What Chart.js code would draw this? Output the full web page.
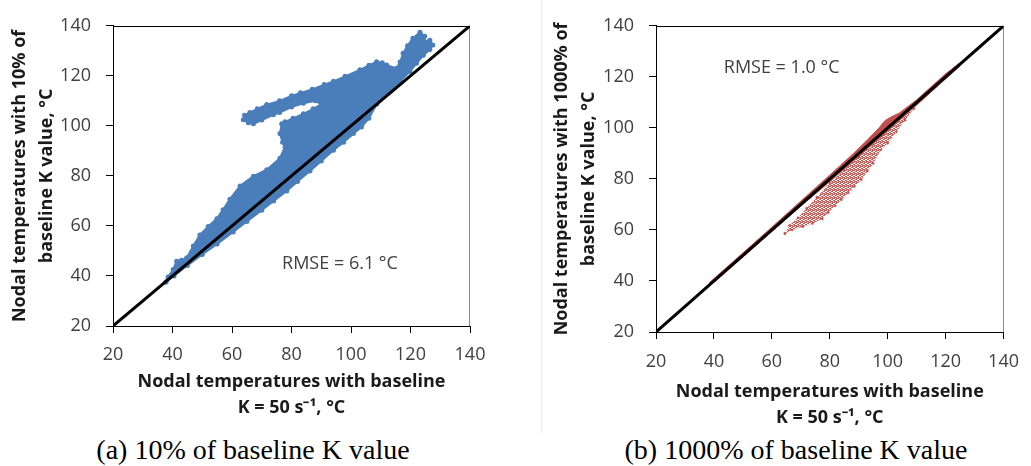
<!DOCTYPE html>
<html>
<head>
<meta charset="utf-8">
<script src="https://cdn.jsdelivr.net/npm/chart.js@4.4.1/dist/chart.umd.min.js"></script>
<style>
  body { margin: 0; background: #fff; width: 1031px; height: 466px; position: relative; overflow: hidden; }
  .panel { position: absolute; top: 0; }
  .caption { position: absolute; top: 434px; width: 400px; font-family: 'Liberation Serif', 'Times New Roman', serif; font-size: 28px; line-height: 32px; color: #000; text-align: center; white-space: nowrap; }
  .divider { position: absolute; left: 541px; top: 0; width: 1px; height: 433px; background: #ececec; }
</style>
</head>
<body>
<div class="panel" style="left:0"><canvas id="chart-a" width="520" height="430"></canvas></div>
<div class="divider"></div>
<div class="panel" style="left:525px"><canvas id="chart-b" width="506" height="430"></canvas></div>
<div class="caption" style="left:53px">(a) 10% of baseline K value</div>
<div class="caption" style="left:596px">(b) 1000% of baseline K value</div>
<script>
// Axis ticks (same for both axes, both panels)
const axisTicks = [20, 40, 60, 80, 100, 120, 140];

// 1:1 reference line
const oneToOne = [[20, 20], [140, 140]];

// (a) 10% K: outline of the blue point cloud [baseline, 10%]
const blueCloud = [
  [37.8, 37.6], [38.5, 39.6], [40.2, 42.6], [41.4, 45.9], [43.0, 46.3], [44.8, 47.3],
  [47.0, 52.0], [49.2, 56.4], [52.0, 59.8], [54.9, 62.9], [57.0, 66.5], [59.3, 70.7],
  [62.7, 76.0], [67.2, 79.9], [71.7, 82.5], [76.1, 87.1], [77.8, 91.6], [77.0, 93.5],
  [76.1, 96.9], [76.7, 100.8], [77.8, 101.6], [80.5, 103.0], [84.0, 104.8], [87.3, 106.8],
  [90.0, 108.6], [88.0, 110.0], [84.0, 109.0], [80.0, 107.5], [76.0, 105.3], [73.9, 104.4],
  [70.0, 102.3], [67.2, 100.8], [65.5, 101.2], [63.8, 102.4], [64.2, 104.2], [66.0, 105.3],
  [68.5, 106.8], [71.7, 108.5], [76.0, 110.0], [80.0, 112.0], [83.0, 113.2], [87.0, 114.6],
  [91.0, 116.5], [94.1, 117.8], [98.0, 119.8], [103.0, 122.4], [106.0, 124.2], [108.6, 125.6],
  [110.5, 125.2], [112.0, 124.3], [115.3, 123.0], [116.5, 125.5], [117.5, 129.0], [119.0, 132.0],
  [120.8, 135.0], [123.2, 137.4], [124.8, 135.8], [124.6, 133.8], [126.5, 134.2], [127.5, 132.3],
  [126.5, 130.5], [124.3, 128.2], [122.0, 125.0], [119.8, 121.7], [116.5, 117.8], [112.5, 113.0],
  [108.6, 108.6], [106.0, 103.0], [103.5, 99.5], [100.8, 96.9], [97.5, 93.5], [94.1, 90.3],
  [90.0, 86.0], [86.2, 82.0], [82.0, 77.8], [78.4, 74.0], [74.0, 70.0], [70.0, 66.3],
  [65.0, 61.8], [60.4, 57.6], [55.0, 52.8], [50.0, 48.6], [45.0, 44.2], [40.5, 40.0],
  [37.8, 37.6]
];

// (b) 1000% K: dense band hugging the 1:1 line
const redBand = [
  [38.5, 39.4], [50, 51.0], [60, 61.1], [70, 71.3], [80, 81.5], [88, 89.8], [93, 95.3],
  [97, 100.0], [99, 102.8], [101, 104.2], [104, 105.8], [110, 111.0], [120, 121.2],
  [124.6, 125.2], [125, 124.3], [120, 119.2], [110, 108.9], [100, 98.8], [90, 88.8],
  [80, 78.9], [70, 69.3], [60, 59.4], [50, 49.4], [40, 39.5], [38.5, 39.4]
];

// (b) sparse lobe under the line
const redLobe = [
  [64.5, 58.6], [67.0, 60.0], [70.7, 61.2], [74.0, 62.5], [77.4, 64.3], [79.5, 66.8],
  [81.9, 69.5], [84.0, 71.8], [86.4, 74.6], [88.5, 77.0], [90.9, 79.7], [93.0, 83.0],
  [95.0, 86.0], [97.6, 91.3], [100.0, 94.0], [103.0, 98.5], [106.0, 103.0], [109.0, 107.5],
  [104.0, 103.5], [100.0, 99.0], [95.0, 94.0], [90.0, 88.8], [85.0, 83.5], [80.0, 78.5],
  [75.5, 72.8], [72.0, 68.5], [69.0, 64.8], [66.1, 61.8], [64.5, 58.6]
];

const xTitle = ['Nodal temperatures with baseline', 'K = 50 s\u207B\u00B9, \u00B0C'];
const yTitleA = ['Nodal temperatures with 10% of', 'baseline K value, \u00B0C'];
const yTitleB = ['Nodal temperatures with 1000% of', 'baseline K value, \u00B0C'];
const rmseA = 'RMSE = 6.1 \u00B0C';
const rmseB = 'RMSE = 1.0 \u00B0C';

const BLUE = '#4a7ebb';
const RED = '#c0504d';

const toPts = arr => arr.map(([x, y]) => ({ x, y }));

// speckled fill for the sparse red lobe
function speckle() {
  const c = document.createElement('canvas');
  c.width = 4; c.height = 4;
  const g = c.getContext('2d');
  g.fillStyle = 'rgba(192,80,77,0.9)';
  [[0, 0], [1, 0], [2, 1], [3, 1], [0, 2], [1, 2], [2, 3], [3, 3], [1, 1], [3, 2]].forEach(([x, y]) => g.fillRect(x, y, 1, 1));
  return g.createPattern(c, 'repeat');
}

// top + right border of the plot box
const framePlugin = {
  id: 'frame',
  beforeDatasetsDraw(chart) {
    const { ctx, chartArea: a } = chart;
    ctx.save();
    ctx.lineWidth = 1;
    ctx.strokeStyle = '#000';
    ctx.beginPath();
    ctx.moveTo(a.left, Math.round(a.top) + 0.5);
    ctx.lineTo(a.right, Math.round(a.top) + 0.5);
    ctx.stroke();
    ctx.strokeStyle = '#8c8c8c';
    ctx.beginPath();
    ctx.moveTo(Math.round(a.right) - 0.5, a.top);
    ctx.lineTo(Math.round(a.right) - 0.5, a.bottom);
    ctx.stroke();
    ctx.restore();
  }
};

// RMSE text, placed in data coordinates
const notePlugin = {
  id: 'note',
  afterDatasetsDraw(chart, args, o) {
    const { ctx, scales: { x, y } } = chart;
    ctx.save();
    ctx.font = '18px "Open Sans"';
    ctx.fillStyle = '#404040';
    ctx.textAlign = 'center';
    ctx.textBaseline = 'middle';
    ctx.fillText(o.text, x.getPixelForValue(o.x), y.getPixelForValue(o.y));
    ctx.restore();
  }
};

function buildChart(id, opts) {
  const canvas = document.getElementById(id);
  const ctx = canvas.getContext('2d');
  const tickFont = { family: 'Open Sans', size: 18 };
  const titleFont = { family: 'Open Sans', size: 18, weight: 'bold' };
  return new Chart(ctx, {
    type: 'scatter',
    data: { datasets: opts.datasets },
    options: {
      responsive: false,
      animation: false,
      events: [],
      layout: { padding: { left: 0, right: opts.padRight, top: 20, bottom: 0 } },
      plugins: {
        legend: { display: false },
        tooltip: { enabled: false },
        note: opts.note
      },
      scales: {
        x: {
          type: 'linear', min: 20, max: 140,
          afterBuildTicks: s => { s.ticks = axisTicks.map(v => ({ value: v })); },
          afterFit: s => { s.height = opts.xHeight; },
          grid: { drawOnChartArea: false, drawTicks: true, tickLength: 7, color: '#000' },
          border: { display: true, color: '#000', width: 1 },
          ticks: { color: '#404040', font: tickFont, padding: opts.xTickPad, maxRotation: 0 },
          title: {
            display: true, text: xTitle, color: '#1a1a1a',
            font: Object.assign({ lineHeight: opts.xTitleLH }, titleFont),
            padding: { top: 0, bottom: opts.xTitlePad }
          }
        },
        y: {
          type: 'linear', min: 20, max: 140,
          afterBuildTicks: s => { s.ticks = axisTicks.map(v => ({ value: v })); },
          afterFit: s => { s.width = opts.yWidth; },
          grid: { drawOnChartArea: false, drawTicks: true, tickLength: 7, color: '#000' },
          border: { display: true, color: '#000', width: 1 },
          ticks: { color: '#404040', font: tickFont, padding: 15 },
          title: {
            display: true, text: opts.yTitle, color: '#1a1a1a',
            font: Object.assign({ lineHeight: 1.5 }, titleFont),
            padding: { top: opts.yTitlePad, bottom: 0 }
          }
        }
      }
    },
    plugins: [framePlugin, notePlugin]
  });
}

const lineSet = () => ({
  data: toPts(oneToOne), showLine: true, borderColor: '#000', borderWidth: 3,
  pointRadius: 0, order: 0
});

buildChart('chart-a', {
  padRight: 50, xHeight: 104, xTickPad: 11, xTitlePad: 10, xTitleLH: 1.4,
  yWidth: 113, yTitle: yTitleA, yTitlePad: 6.5,
  note: { text: rmseA, x: 96.3, y: 44.7 },
  datasets: [
    lineSet(),
    {
      data: toPts(blueCloud), showLine: true, fill: 'shape',
      backgroundColor: BLUE, borderColor: BLUE, borderWidth: 2,
      pointRadius: 2.5, pointBackgroundColor: BLUE, pointBorderWidth: 0, order: 1
    }
  ]
});

buildChart('chart-b', {
  padRight: 18, xHeight: 98, xTickPad: 12, xTitlePad: 0, xTitleLH: 1.4,
  yWidth: 131, yTitle: yTitleB, yTitlePad: 23.5,
  note: { text: rmseB, x: 63.4, y: 123.5 },
  datasets: [
    lineSet(),
    {
      data: toPts(redBand), showLine: true, fill: 'shape',
      backgroundColor: RED, borderColor: RED, borderWidth: 1,
      pointRadius: 0, order: 1
    },
    {
      data: toPts(redLobe), showLine: true, fill: 'shape',
      backgroundColor: speckle(), borderColor: 'rgba(192,80,77,0.5)', borderWidth: 0,
      pointRadius: 1.2, pointBackgroundColor: RED, pointBorderWidth: 0, order: 2
    }
  ]
});
</script>
</body>
</html>
